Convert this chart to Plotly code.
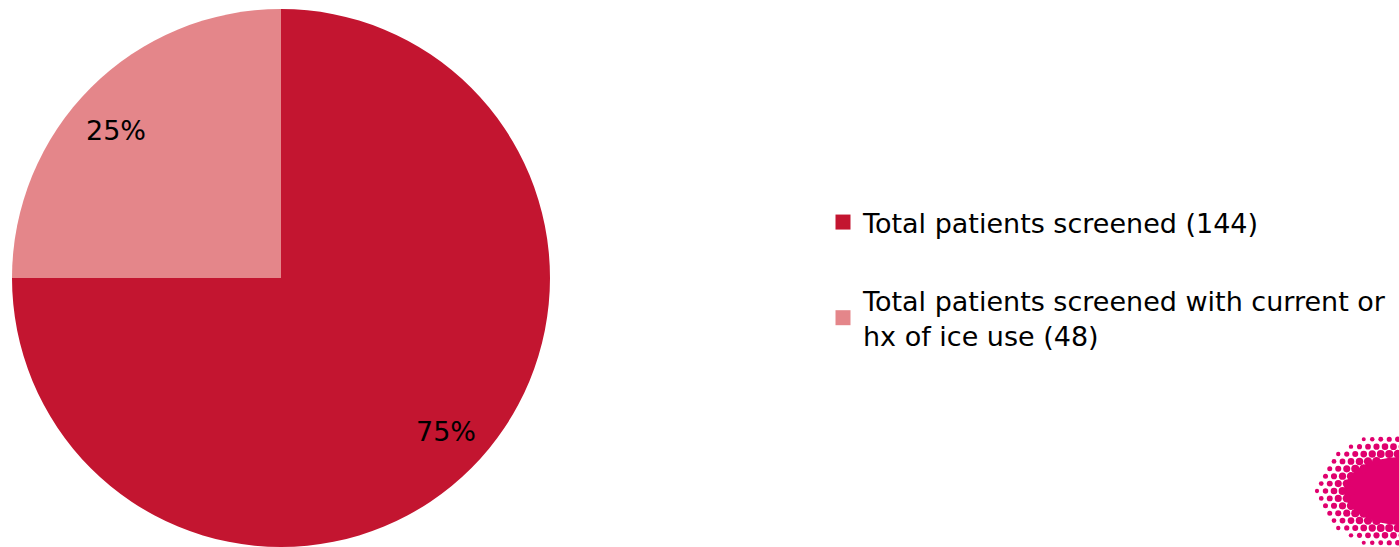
import numpy as np
import plotly.graph_objects as go

# Screening results
labels = ["Total patients screened (144)",
          "Total patients screened with current or<br>hx of ice use (48)"]
values = [75, 25]
colors = ["#C31530", "#E4868A"]

W, H = 1399, 547
cx_px, cy_px, r_px = 281, 278, 269

fig = go.Figure()
fig.add_trace(go.Pie(
    values=values, labels=labels, sort=False, direction="clockwise", rotation=0,
    marker=dict(colors=colors, line=dict(width=0)),
    textinfo="none", hoverinfo="label+percent", showlegend=False,
    domain=dict(x=[(cx_px - r_px) / W, (cx_px + r_px) / W], y=[0, 538 / H]),
))

# Legend entries as square markers, each in its own group for spacing
for i, (lab, col) in enumerate(zip(labels, colors)):
    fig.add_trace(go.Scatter(
        x=[None], y=[None], mode="markers", name=lab, legendgroup=f"g{i}",
        marker=dict(symbol="square", size=15, color=col),
    ))

# Percentage labels placed along each slice's mid-angle, pushed toward the wide side
total = sum(values)
cum = 0
annotations = []
for v in values:
    mid = (cum + v / 2) / total * 2 * np.pi
    cum += v
    px = cx_px + 0.865 * r_px * np.sin(mid)
    py = cy_px - 0.79 * r_px * np.cos(mid)
    annotations.append(dict(
        x=px / W, y=1 - py / H, xref="paper", yref="paper", showarrow=False,
        xanchor="center", yanchor="middle", yshift=-3,
        text=f"{round(v / total * 100)}%", font=dict(size=27, color="#000000"),
    ))

# Halftone sunburst emblem in the lower-right corner
shapes = []
ex, ey, stretch = 1402, 491, 1.5
def ell(x, y, rx, ry):
    return dict(type="circle", xref="paper", yref="paper", line=dict(width=0),
                fillcolor="#E0006E", layer="above",
                x0=(x - rx) / W, x1=(x + rx) / W, y0=1 - (y + ry) / H, y1=1 - (y - ry) / H)
shapes.append(ell(ex, ey, 58, 34))
step = 8.5
for row in range(-8, 9):
    yy = ey + row * step * 0.87
    off = (row % 2) * step / 2
    for col in range(-12, 2):
        xx = ex + col * step + off
        d = np.hypot((xx - ex) / stretch, yy - ey)
        if 33 <= d <= 58 and xx < W + 4:
            rad = 4.6 - (d - 33) / 25 * 2.6
            shapes.append(ell(xx, yy, rad, rad))

fig.update_layout(
    width=W, height=H, margin=dict(l=0, r=0, t=0, b=0),
    paper_bgcolor="white", plot_bgcolor="white",
    font=dict(family="DejaVu Sans, Verdana, sans-serif", size=27, color="#000000"),
    xaxis=dict(visible=False), yaxis=dict(visible=False),
    legend=dict(x=823 / W, y=1 - 198 / H, xanchor="left", yanchor="top",
                tracegroupgap=40, itemsizing="trace", bgcolor="rgba(0,0,0,0)",
                font=dict(size=27)),
    annotations=annotations, shapes=shapes,
)

fig.write_html("out.html")
